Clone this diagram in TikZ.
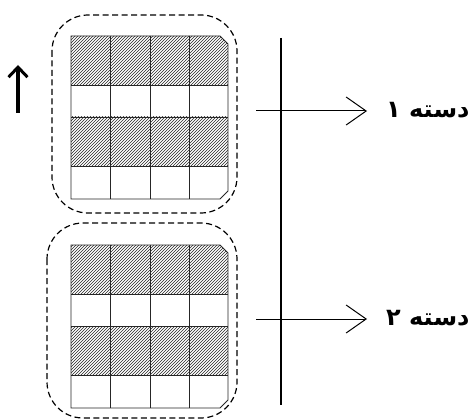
\documentclass[tikz,border=0pt]{standalone}
\usepackage{fontspec}
\newfontfamily\arabicfont[Script=Arabic]{DejaVu Sans}
\TeXXeTstate=1
\usetikzlibrary{patterns,arrows.meta}
\newcommand\lblfont{\arabicfont\bfseries\fontsize{24}{28}\selectfont}
\tikzset{
  group/.style={dashed, dash pattern=on 6pt off 3.5pt, line width=1.2pt, rounded corners=36pt},
  gridline/.style={line width=0.8pt, black!85},
  hatch/.style={pattern=north east lines, pattern color=black!85},
  conn/.style={line width=1pt, -{Straight Barb[length=20pt,width=28pt,line width=1pt]}},
  lbl/.style={anchor=west, inner sep=0pt},
}
\newcommand\mygrid[1]{%
  \begin{scope}[shift={(0,#1)}]
    \begin{scope}
      \clip (71,0) -- (220,0) -- (228,8) -- (228,155) -- (220,163) -- (71,163) -- cycle;
      \fill[hatch] (71,0) rectangle (228,49);
      \fill[hatch] (71,81) rectangle (228,130);
    \end{scope}
    \draw[gridline] (71,0) -- (220,0) -- (228,8) -- (228,155) -- (220,163) -- (71,163) -- cycle;
    \foreach \yy in {49,81,130} \draw[gridline] (71,\yy) -- (228,\yy);
    \foreach \xx in {110,150,189} \draw[gridline] (\xx,0) -- (\xx,163);
  \end{scope}}
\begin{document}
\begin{tikzpicture}[x=1pt,y=-1pt]
\useasboundingbox (0,0) rectangle (472,420);
\fill[white] (0,0) rectangle (472,420);
% groups
\draw[group] (52,15) rectangle (237,213);
\draw[group] (47,223) rectangle (237,418);
\mygrid{36}
\mygrid{245}
% vertical line
\coordinate (vt) at (281,38);
\coordinate (vb) at (281,405);
\draw[line width=1.1pt] (vt) -- (vb);
% labels
\node[lbl] (l1) at (386,110) {\lblfont\beginR دسته ۱\endR};
\node[lbl] (l2) at (386,318) {\lblfont\beginR دسته ۲\endR};
\coordinate (s1) at (256,111);
\coordinate (s2) at (256,319);
\coordinate (e1) at (367,111);
\coordinate (e2) at (367,319);
\draw[conn] (s1) -- (e1);
\draw[conn] (s2) -- (e2);
% up arrow
\coordinate (ua) at (18,113);
\coordinate (ub) at (18,65);
\draw[line width=3.4pt, -{Straight Barb[length=10pt,width=19pt,line width=3pt]}] (ua) -- (ub);
\end{tikzpicture}
\end{document}
